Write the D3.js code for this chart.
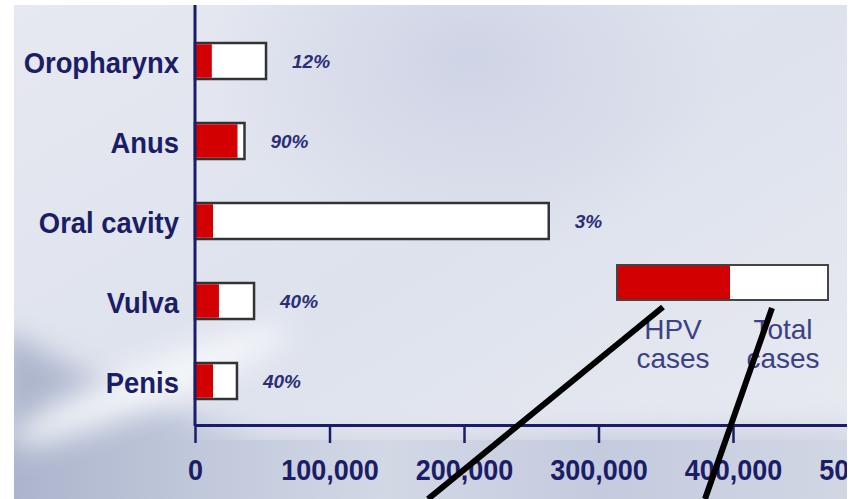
<!DOCTYPE html>
<html>
<head>
<meta charset="utf-8">
<script src="https://cdn.jsdelivr.net/npm/d3@7"></script>
<style>
  body { margin: 0; background: #fff; }
  svg { display: block; }
</style>
</head>
<body>
<div id="canvas"></div>
<script>
// Datos
const categories = ["Oropharynx", "Anus", "Oral cavity", "Vulva", "Penis"];
const hpvCases = [12500, 31600, 13400, 17800, 13400];
const totalCases = [52800, 36800, 263000, 43900, 31200];
const hpvShare = ["12%", "90%", "3%", "40%", "40%"];
const xTicks = [0, 100000, 200000, 300000, 400000, 500000];
const legendLabels = [["HPV", "cases"], ["Total", "cases"]];

const width = 858;
const height = 499;
const navy = "#1b1d66";
const font = "'Liberation Sans', Arial, sans-serif";

const svg = d3.select("#canvas").append("svg")
    .attr("width", width)
    .attr("height", height);

const defs = svg.append("defs");

// Zona de la imagen (borde blanco alrededor)
defs.append("clipPath").attr("id", "panel")
    .append("rect").attr("x", 14).attr("y", 5).attr("width", 833).attr("height", 494);

const bgGrad = defs.append("linearGradient").attr("id", "bg")
    .attr("x1", 0).attr("y1", 0).attr("x2", 1).attr("y2", 1);
bgGrad.append("stop").attr("offset", 0).attr("stop-color", "#e6e9f1");
bgGrad.append("stop").attr("offset", 0.5).attr("stop-color", "#dee2ed");
bgGrad.append("stop").attr("offset", 1).attr("stop-color", "#e8ebf1");

const shade = defs.append("radialGradient").attr("id", "shade");
shade.append("stop").attr("offset", 0).attr("stop-color", "#cdd2e5").attr("stop-opacity", 0.9);
shade.append("stop").attr("offset", 1).attr("stop-color", "#cdd2e5").attr("stop-opacity", 0);

const band = defs.append("linearGradient").attr("id", "band")
    .attr("x1", 0).attr("y1", 0).attr("x2", 1).attr("y2", 0);
[[0, "#aab3cb"], [0.22, "#bfc7da"], [0.45, "#d3d8e5"], [0.7, "#c4cbde"], [1, "#d2d7e4"]]
    .forEach(([o, c]) => band.append("stop").attr("offset", o).attr("stop-color", c));

defs.append("filter").attr("id", "blur")
    .attr("x", -0.5).attr("y", -0.5).attr("width", 2).attr("height", 2)
    .append("feGaussianBlur").attr("stdDeviation", 14);

const bg = svg.append("g").attr("clip-path", "url(#panel)");
bg.append("rect").attr("width", width).attr("height", height).attr("fill", "url(#bg)");
bg.append("ellipse").attr("cx", 470).attr("cy", 60).attr("rx", 260).attr("ry", 190)
    .attr("fill", "url(#shade)");
// franja azulada abajo a la izquierda y barrido blanco
bg.append("path").attr("d", "M0,330 L120,390 L260,440 L430,440 L858,425 L858,499 L0,499 Z")
    .attr("fill", "url(#band)").attr("filter", "url(#blur)");
bg.append("rect").attr("x", 0).attr("y", 440).attr("width", width).attr("height", 60)
    .attr("fill", "url(#band)");
bg.append("ellipse").attr("cx", 150).attr("cy", 385).attr("rx", 150).attr("ry", 22)
    .attr("transform", "rotate(-22 150 385)")
    .attr("fill", "#f6f8fb").attr("opacity", 0.9).attr("filter", "url(#blur)");

// Escalas
const x = d3.scaleLinear()
    .domain([0, 500000])
    .range([195, 867.5]);

const y = d3.scaleBand()
    .domain(categories)
    .range([21, 421])
    .paddingInner(0.55)
    .paddingOuter(0.275);

const rows = categories.map((name, i) => ({
    name, hpv: hpvCases[i], total: totalCases[i], share: hpvShare[i]
}));

const g = svg.append("g").attr("clip-path", "url(#panel)");

// Barras: total en blanco, casos VPH en rojo
g.selectAll("rect.total").data(rows).enter()
    .append("rect").attr("class", "total")
    .attr("x", x(0))
    .attr("y", d => y(d.name))
    .attr("width", d => x(d.total) - x(0))
    .attr("height", y.bandwidth())
    .attr("fill", "#fff")
    .attr("stroke", "#333")
    .attr("stroke-width", 2.5);

g.selectAll("rect.hpv").data(rows).enter()
    .append("rect").attr("class", "hpv")
    .attr("x", x(0))
    .attr("y", d => y(d.name) + 1.25)
    .attr("width", d => x(d.hpv) - x(0))
    .attr("height", y.bandwidth() - 2.5)
    .attr("fill", "#d20000");

// Porcentajes
g.selectAll("text.share").data(rows).enter()
    .append("text").attr("class", "share")
    .attr("x", d => x(d.total) + 26)
    .attr("y", d => y(d.name) + y.bandwidth() / 2 + 7)
    .attr("font-family", font)
    .attr("font-size", 19)
    .attr("font-weight", "bold")
    .attr("font-style", "italic")
    .attr("fill", "#2b2e78")
    .text(d => d.share);

// Eje x
const xAxis = g.append("g")
    .attr("transform", "translate(0, 425)")
    .call(d3.axisBottom(x)
        .tickValues(xTicks)
        .tickFormat(d3.format(","))
        .tickSize(18)
        .tickSizeOuter(0)
        .tickPadding(15.7));
xAxis.select(".domain").attr("stroke", navy).attr("stroke-width", 3);
xAxis.selectAll(".tick line").attr("stroke", navy).attr("stroke-width", 2.5);
xAxis.selectAll(".tick text")
    .attr("font-family", font)
    .attr("font-size", 30)
    .attr("font-weight", "bold")
    .attr("fill", navy)
    .attr("transform", "scale(0.9,1)");

// Eje y
const yAxis = g.append("g")
    .attr("transform", `translate(${x(0)}, 0)`)
    .call(d3.axisLeft(y).tickSize(0).tickPadding(17));
yAxis.select(".domain").remove();
yAxis.selectAll(".tick text")
    .attr("font-family", font)
    .attr("font-size", 29)
    .attr("font-weight", "bold")
    .attr("fill", navy)
    .attr("dy", "0.42em")
    .attr("transform", "scale(0.945,1)");
yAxis.append("line")
    .attr("y1", 0).attr("y2", 426)
    .attr("stroke", navy).attr("stroke-width", 3);

// Leyenda
const legend = g.append("g").attr("transform", "translate(617, 265)");
legend.append("rect").attr("width", 113).attr("height", 35).attr("fill", "#d20000");
legend.append("rect").attr("x", 113).attr("width", 98).attr("height", 35).attr("fill", "#fff");
legend.append("rect").attr("width", 211).attr("height", 35)
    .attr("fill", "none").attr("stroke", "#444").attr("stroke-width", 2);
legendLabels.forEach((lines, i) => {
    const t = legend.append("text")
        .attr("text-anchor", "middle")
        .attr("font-family", font)
        .attr("font-size", 28)
        .attr("fill", "#3d4183");
    lines.forEach((s, j) => t.append("tspan")
        .attr("x", i === 0 ? 56 : 166)
        .attr("y", 74 + j * 29)
        .text(s));
});

// Lineas negras de anotacion
const pointers = [[663, 307, 428, 499], [772, 308, 705, 499]];
g.selectAll("line.pointer").data(pointers).enter()
    .append("line").attr("class", "pointer")
    .attr("x1", d => d[0]).attr("y1", d => d[1])
    .attr("x2", d => d[2]).attr("y2", d => d[3])
    .attr("stroke", "#000")
    .attr("stroke-width", 6);
</script>
</body>
</html>
